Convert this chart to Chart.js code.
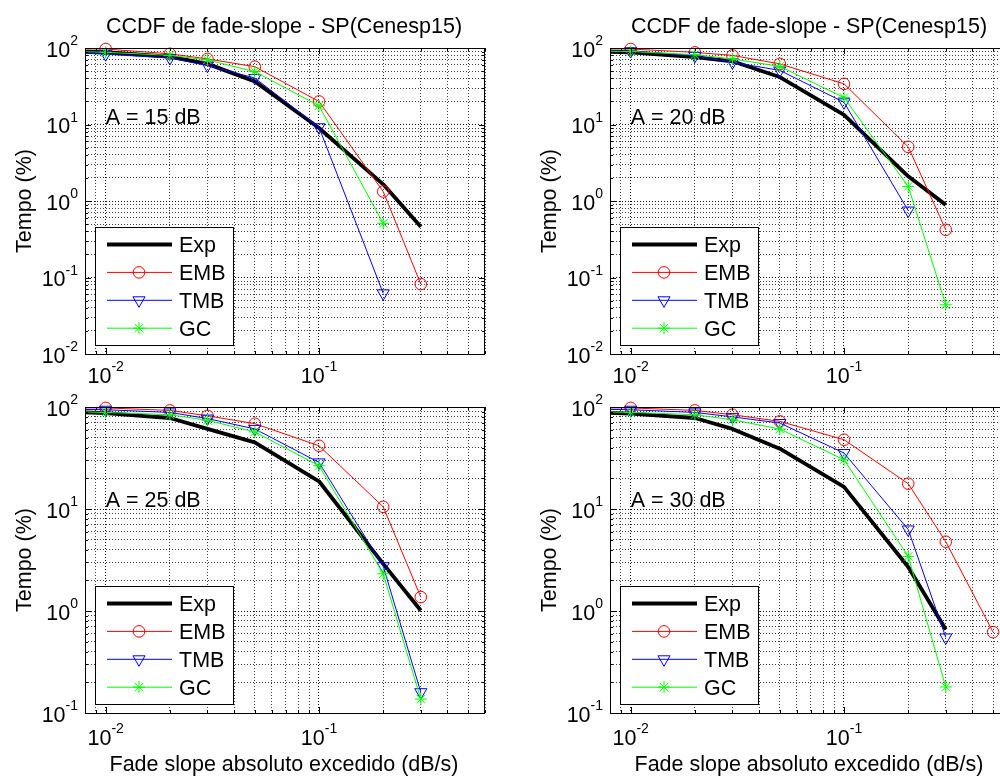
<!DOCTYPE html>
<html>
<head>
<meta charset="utf-8">
<title>CCDF de fade-slope - SP(Cenesp15)</title>
<script src="https://cdn.jsdelivr.net/npm/chart.js@4/dist/chart.umd.min.js"></script>
<style>
html, body { margin: 0; padding: 0; width: 1000px; height: 776px; overflow: hidden; background: #fff; }
canvas { position: absolute; }
</style>
</head>
<body>
<canvas id="p15" width="500" height="390" style="left:0;top:0"></canvas>
<canvas id="p20" width="520" height="390" style="left:500px;top:0"></canvas>
<canvas id="p25" width="500" height="386" style="left:0;top:390px"></canvas>
<canvas id="p30" width="520" height="386" style="left:500px;top:390px"></canvas>
<script>
// fade slope thresholds (dB/s)
const slopeValues = [0.005, 0.01, 0.02, 0.03, 0.05, 0.1, 0.2, 0.3, 0.5];
const seriesNames = ['Exp', 'EMB', 'TMB', 'GC'];

// time (%) the absolute fade slope is exceeded, per attenuation level
const exp15 = [93, 88, 77, 62, 36.6, 9, 1.65, 0.46, null];
const emb15 = [98, 97, 84, 72, 57, 20, 1.33, 0.082, null];
const tmb15 = [90, 83, 74, 59, 40.5, 9.2, 0.062, null, null];
const gc15  = [92, 88, 80, 70, 49, 17.6, 0.51, null, null];

const exp20 = [92, 88, 76, 67, 41.7, 13.4, 2.1, 0.89, null];
const emb20 = [98, 97, 87.7, 80, 62, 34, 5.1, 0.42, null];
const tmb20 = [93, 91, 79, 65, 51, 19.5, 0.75, null, null];
const gc20  = [92, 90, 81.7, 72, 57.5, 22.5, 1.55, 0.044, null];

const exp25 = [92, 87, 78, 61, 45, 18.7, 2.9, 1.01, null];
const emb25 = [98, 98, 92.6, 82, 68.6, 41.7, 10.5, 1.37, null];
const tmb25 = [96, 94, 88.5, 77, 61, 28.6, 2.75, 0.16, null];
const gc25  = [91, 88.5, 84, 74, 57, 26.6, 2.32, 0.137, null];

const exp30 = [91, 86, 78, 61, 39, 16.5, 2.7, 0.66, null];
const emb30 = [98, 98, 92.6, 84, 72.3, 47.8, 17.7, 4.78, 0.62];
const tmb30 = [96, 94, 88.5, 80, 69.6, 35.4, 6.3, 0.55, null];
const gc30  = [91, 88.5, 84, 75, 60.8, 30.4, 3.43, 0.18, null];

// labelled ticks (powers of ten)
const xLabelValues = [0.01, 0.1];
const yLabelsTop = [0.01, 0.1, 1, 10, 100];
const yLabelsBottom = [0.1, 1, 10, 100];

const titleText = 'CCDF de fade-slope - SP(Cenesp15)';
const xTitleText = 'Fade slope absoluto excedido (dB/s)';
const yTitleText = 'Tempo (%)';

const FONT = '"Liberation Sans", Arial, sans-serif';

const seriesStyle = [
    {color: '#000000', width: 3.8, marker: null},
    {color: '#ff0000', width: 1, marker: 'circle', radius: 5.8, rotation: 0},
    {color: '#0000ff', width: 1, marker: 'triangle', radius: 7, rotation: 180},
    {color: '#00ff00', width: 1, marker: 'star', radius: 6, rotation: 0}
];

// minor grid steps 1..9 for each decade between two exponents
function decadeSteps(fromExp, toExp)
{
    let list = [];
    for (let e = fromExp; e < toExp; e++)
    {
        for (let m = 1; m <= 9; m++)
        {
            list.push(parseFloat((m * Math.pow(10, e)).toPrecision(3)));
        }
    }
    list.push(Math.pow(10, toExp));
    return list;
}

const xGrid = decadeSteps(-3, 0).filter(v => v >= 0.009 && v <= 0.6);
const yGridTop = decadeSteps(-2, 2);
const yGridBottom = decadeSteps(-1, 2);

function isDecade(v)
{
    let l = Math.log10(v);
    return Math.abs(l - Math.round(l)) < 1e-6;
}

function gridColor(c)
{
    return (c.tick && isDecade(c.tick.value)) ? 'rgba(0,0,0,0.95)' : 'rgba(0,0,0,0.75)';
}

const panels = [
    {id: 'p15', label: 'A = 15 dB', series: [exp15, emb15, tmb15, gc15], yMin: 0.01,
     yGrid: yGridTop, yLabels: yLabelsTop, showTitle: true, showXTitle: false,
     area: {left: 85, top: 48, right: 485, bottom: 354}, xLabelGap: 21},
    {id: 'p20', label: 'A = 20 dB', series: [exp20, emb20, tmb20, gc20], yMin: 0.01,
     yGrid: yGridTop, yLabels: yLabelsTop, showTitle: true, showXTitle: false,
     area: {left: 110, top: 48, right: 510, bottom: 354}, xLabelGap: 21},
    {id: 'p25', label: 'A = 25 dB', series: [exp25, emb25, tmb25, gc25], yMin: 0.1,
     yGrid: yGridBottom, yLabels: yLabelsBottom, showTitle: false, showXTitle: true,
     area: {left: 85, top: 17, right: 485, bottom: 323}, xLabelGap: 24},
    {id: 'p30', label: 'A = 30 dB', series: [exp30, emb30, tmb30, gc30], yMin: 0.1,
     yGrid: yGridBottom, yLabels: yLabelsBottom, showTitle: false, showXTitle: true,
     area: {left: 110, top: 17, right: 510, bottom: 323}, xLabelGap: 24}
];

function drawMarker(ctx, style, x, y)
{
    let r = style.radius;
    ctx.save();
    ctx.strokeStyle = style.color;
    ctx.lineWidth = 1;
    ctx.beginPath();
    if (style.marker === 'circle')
    {
        ctx.arc(x, y, r, 0, Math.PI * 2);
    }
    else if (style.marker === 'triangle')
    {
        ctx.moveTo(x, y + r);
        ctx.lineTo(x - r * 0.866, y - r / 2);
        ctx.lineTo(x + r * 0.866, y - r / 2);
        ctx.closePath();
    }
    else if (style.marker === 'star')
    {
        let d = r * 0.7071;
        ctx.moveTo(x - r, y); ctx.lineTo(x + r, y);
        ctx.moveTo(x, y - r); ctx.lineTo(x, y + r);
        ctx.moveTo(x - d, y - d); ctx.lineTo(x + d, y + d);
        ctx.moveTo(x - d, y + d); ctx.lineTo(x + d, y - d);
    }
    ctx.stroke();
    ctx.restore();
}

// "10" with a raised exponent; align is 'center' or 'right'
function drawPower(ctx, value, x, baseline, align)
{
    let exponent = String(Math.round(Math.log10(value)));
    ctx.font = '21.5px ' + FONT;
    let baseW = ctx.measureText('10').width;
    ctx.font = '14px ' + FONT;
    let expW = ctx.measureText(exponent).width;
    let total = baseW + expW;
    let left = align === 'right' ? x - total : x - total / 2;
    ctx.textAlign = 'left';
    ctx.textBaseline = 'alphabetic';
    ctx.font = '21.5px ' + FONT;
    ctx.fillText('10', left, baseline);
    ctx.font = '14px ' + FONT;
    ctx.fillText(exponent, left + baseW, baseline - 11.5);
}

function panelPlugin(panel)
{
    return {
        id: 'panel_' + panel.id,
        afterDraw(chart)
        {
            let ctx = chart.ctx;
            let area = chart.chartArea;
            let xs = chart.scales.x;
            let ys = chart.scales.y;

            ctx.save();
            ctx.fillStyle = '#000';
            ctx.strokeStyle = '#000';
            ctx.lineWidth = 1;

            // inward tick marks
            ctx.beginPath();
            xGrid.forEach(v => {
                let px = Math.round(xs.getPixelForValue(v)) + 0.5;
                let len = isDecade(v) ? 6 : 3;
                ctx.moveTo(px, area.bottom); ctx.lineTo(px, area.bottom - len);
                ctx.moveTo(px, area.top); ctx.lineTo(px, area.top + len);
            });
            panel.yGrid.forEach(v => {
                let py = Math.round(ys.getPixelForValue(v)) + 0.5;
                let len = isDecade(v) ? 6 : 3;
                ctx.moveTo(area.left, py); ctx.lineTo(area.left + len, py);
                ctx.moveTo(area.right, py); ctx.lineTo(area.right - len, py);
            });
            ctx.stroke();

            // axes box
            ctx.strokeRect(area.left + 0.5, area.top + 0.5, area.right - area.left - 1, area.bottom - area.top);

            // tick labels
            xLabelValues.forEach(v => {
                drawPower(ctx, v, xs.getPixelForValue(v), area.bottom + panel.xLabelGap + 7.7, 'center');
            });
            panel.yLabels.forEach(v => {
                drawPower(ctx, v, area.left - 7, ys.getPixelForValue(v) + 8.7, 'right');
            });

            let midX = (area.left + area.right) / 2;
            ctx.font = '21.5px ' + FONT;
            ctx.textBaseline = 'alphabetic';
            if (panel.showTitle)
            {
                ctx.textAlign = 'center';
                ctx.fillText(titleText, midX - 1, area.top - 15.5);
            }
            if (panel.showXTitle)
            {
                ctx.textAlign = 'center';
                ctx.fillText(xTitleText, midX - 1, area.bottom + 58);
            }
            ctx.save();
            ctx.translate(area.left - 54.5, (area.top + area.bottom) / 2);
            ctx.rotate(-Math.PI / 2);
            ctx.textAlign = 'center';
            ctx.fillText(yTitleText, 0, 0);
            ctx.restore();

            // attenuation level
            ctx.textAlign = 'left';
            ctx.fillText(panel.label, xs.getPixelForValue(0.01), ys.getPixelForValue(12) + 6);

            // legend
            let box = {left: area.left + 10, bottom: area.bottom - 9, width: 138, height: 118};
            let top = box.bottom - box.height;
            ctx.fillStyle = '#fff';
            ctx.fillRect(box.left, top, box.width, box.height);
            ctx.strokeStyle = '#000';
            ctx.strokeRect(box.left + 0.5, top + 0.5, box.width, box.height);
            seriesNames.forEach((name, i) => {
                let st = seriesStyle[i];
                let y = top + 17.5 + i * 27.9;
                ctx.save();
                ctx.strokeStyle = st.color;
                ctx.lineWidth = st.width;
                ctx.beginPath();
                ctx.moveTo(box.left + 12, y);
                ctx.lineTo(box.left + 77, y);
                ctx.stroke();
                ctx.restore();
                if (st.marker)
                {
                    drawMarker(ctx, st, box.left + 44, y);
                }
                ctx.fillStyle = '#000';
                ctx.font = '21.5px ' + FONT;
                ctx.textAlign = 'left';
                ctx.fillText(name, box.left + 84, y + 7.7);
            });
            ctx.restore();
        }
    };
}

function buildPanel(panel)
{
    let canvas = document.getElementById(panel.id);
    let W = canvas.width;
    let H = canvas.height;
    let area = panel.area;

    let datasets = seriesNames.map((name, i) => {
        let st = seriesStyle[i];
        return {
            label: name,
            data: slopeValues.map((x, k) => ({x: x, y: panel.series[i][k]})).filter(p => p.y !== null),
            borderColor: st.color,
            borderWidth: st.width,
            borderJoinStyle: 'round',
            pointStyle: st.marker ? st.marker : false,
            pointRadius: st.marker ? st.radius : 0,
            pointRotation: st.rotation || 0,
            pointBorderColor: st.color,
            pointBackgroundColor: 'rgba(0,0,0,0)',
            pointBorderWidth: 1,
            tension: 0,
            fill: false,
            order: seriesNames.length - i,
            clip: {left: 0, top: 10, right: 10, bottom: 10}
        };
    });

    return new Chart(canvas, {
        type: 'line',
        data: {datasets: datasets},
        options: {
            responsive: false,
            animation: false,
            events: [],
            layout: {
                autoPadding: false,
                padding: {left: 0, top: area.top, right: W - area.right, bottom: 0}
            },
            plugins: {
                legend: {display: false},
                title: {display: false},
                tooltip: {enabled: false}
            },
            scales: {
                x: {
                    type: 'logarithmic',
                    min: 0.008,
                    max: 0.6,
                    bounds: 'data',
                    afterBuildTicks: s => { s.ticks = xGrid.map(v => ({value: v})); },
                    afterFit: s => { s.height = H - area.bottom; },
                    ticks: {display: false},
                    grid: {color: gridColor, lineWidth: 1, drawTicks: false},
                    border: {display: false, dash: [1, 2]}
                },
                y: {
                    type: 'logarithmic',
                    min: panel.yMin,
                    max: 100,
                    bounds: 'data',
                    afterBuildTicks: s => { s.ticks = panel.yGrid.map(v => ({value: v})); },
                    afterFit: s => { s.width = area.left; },
                    ticks: {display: false},
                    grid: {color: gridColor, lineWidth: 1, drawTicks: false},
                    border: {display: false, dash: [1, 2]}
                }
            }
        },
        plugins: [panelPlugin(panel)]
    });
}

panels.forEach(buildPanel);
</script>
</body>
</html>
